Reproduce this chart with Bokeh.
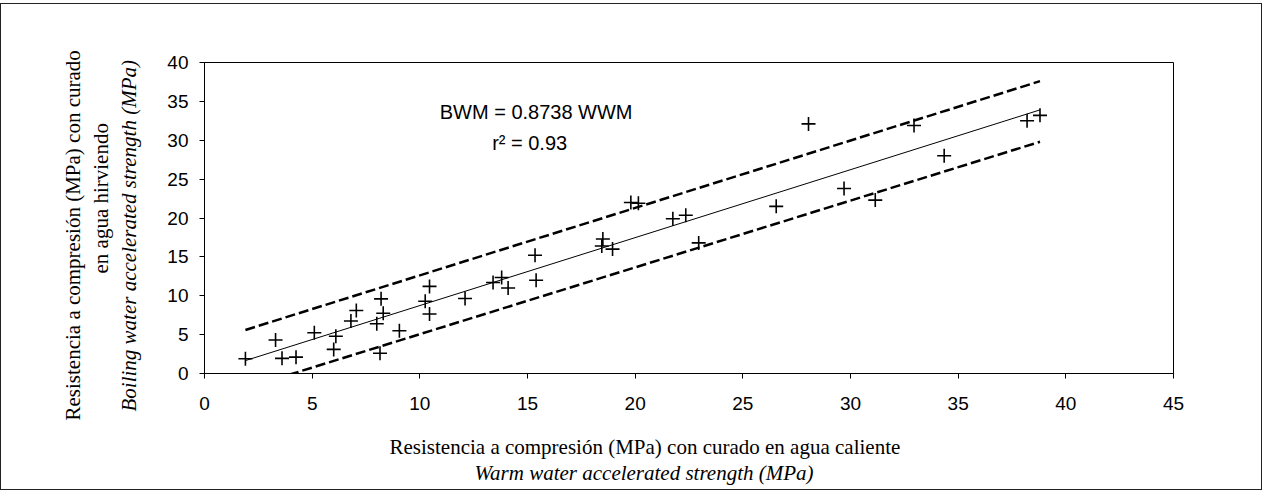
from bokeh.plotting import figure
from bokeh.models import Range1d, FixedTicker, Label, ColumnDataSource, Title
from bokeh.embed import file_html
from bokeh.resources import INLINE

# ---- data ----
wwm = [1.9, 3.3, 3.6, 4.25, 5.1, 6.0, 6.1, 6.8, 7.05, 8.0, 8.2, 8.3, 8.15, 9.05,
       10.25, 10.45, 10.45, 12.1, 13.4, 13.8, 14.1, 15.35, 15.4, 18.45, 18.5,
       18.95, 19.8, 20.15, 21.75, 22.35, 22.95, 26.55, 28.05, 29.7, 31.15,
       32.95, 34.35, 38.2, 38.8]
bwm = [1.9, 4.3, 1.95, 2.1, 5.25, 3.1, 4.8, 6.75, 8.1, 6.4, 9.6, 7.75, 2.6, 5.5,
       9.3, 7.65, 11.2, 9.65, 11.7, 12.35, 11.0, 15.2, 12.0, 16.4, 17.3,
       16.0, 22.0, 21.9, 19.9, 20.35, 16.8, 21.5, 32.1, 23.8, 22.3,
       31.9, 28.0, 32.5, 33.2]

slope = 0.8738
fit_x = [1.9, 38.8]
fit_y = [slope * v for v in fit_x]

upper_x = [1.9, 38.8]
upper_y = [5.6, 37.6]
lower_x = [3.3, 38.8]
lower_y = [-0.7, 29.8]

x_ticks = [0, 5, 10, 15, 20, 25, 30, 35, 40, 45]
y_ticks = [0, 5, 10, 15, 20, 25, 30, 35, 40]

x_title = ["Resistencia a compresión (MPa) con curado en agua caliente",
           "Warm water accelerated strength (MPa)"]
y_title = ["Boiling water accelerated strength (MPa)",
           "en agua hirviendo",
           "Resistencia a compresión (MPa) con curado"]

SANS = "Liberation Sans"
SERIF = "Liberation Serif"

p = figure(width=1262, height=487, output_backend="svg", toolbar_location=None,
           x_range=Range1d(0, 45), y_range=Range1d(0, 40),
           min_border_left=203, min_border_right=90,
           min_border_top=58, min_border_bottom=118)
p.styles = {"border": "1px solid #222", "margin-top": "3px"}

p.xgrid.visible = False
p.ygrid.visible = False
p.outline_line_color = "black"
p.outline_line_width = 1
p.background_fill_color = "white"
p.border_fill_color = "white"

for ax in (p.xaxis[0], p.yaxis[0]):
    ax.axis_line_color = "black"
    ax.major_tick_line_color = "black"
    ax.minor_tick_line_color = None
    ax.major_tick_out = 5
    ax.major_tick_in = 0
    ax.major_label_text_font = SANS
    ax.major_label_text_font_size = "19px"
    ax.major_label_text_color = "black"
p.xaxis.ticker = FixedTicker(ticks=x_ticks)
p.yaxis.ticker = FixedTicker(ticks=y_ticks)
p.xaxis.major_label_standoff = 18
p.yaxis.major_label_standoff = 11


def add_spacer(loc, standoff):
    # tiny white title used only to reserve space in the side panel
    p.add_layout(Title(text=".", standoff=standoff, text_font_size="2px",
                       text_color="white"), loc)


def add_title(loc, text, style, standoff, size, offset):
    t = Title(text=text, align="left", offset=offset, standoff=standoff,
              text_font=SERIF, text_font_style=style, text_font_size=size,
              text_color="black")
    p.add_layout(t, loc)


# x axis titles (inner first)
add_spacer("below", 17)
add_title("below", x_title[0], "normal", 0, "21px", 185)
add_title("below", x_title[1], "italic", 0, "21px", 270)

# y axis titles (inner first)
add_spacer("left", 21)
add_title("left", y_title[0], "italic", 0, "21px", -38)
add_title("left", y_title[1], "normal", 3, "21px", 100)
add_title("left", y_title[2], "normal", 2, "21px", -47)

# bands (dashed)
p.line(upper_x, upper_y, line_color="black", line_width=2.5, line_dash="10 4")
p.line(lower_x, lower_y, line_color="black", line_width=2.5, line_dash="10 4")
# regression line
p.line(fit_x, fit_y, line_color="black", line_width=1)
# points
src = ColumnDataSource(dict(x=wwm, y=bwm))
p.scatter("x", "y", source=src, marker="cross", size=14, line_color="black",
          line_width=1.6)

# annotation
p.add_layout(Label(x=15.4, y=33.6, text="BWM = 0.8738 WWM", text_align="center",
                   text_baseline="middle", text_font=SANS,
                   text_font_size="20px", text_color="black"))
p.add_layout(Label(x=15.1, y=29.7, text="r\u00b2 = 0.93", text_align="center",
                   text_baseline="middle", text_font=SANS,
                   text_font_size="20px", text_color="black"))

open("out.html", "w").write(file_html(p, INLINE))
